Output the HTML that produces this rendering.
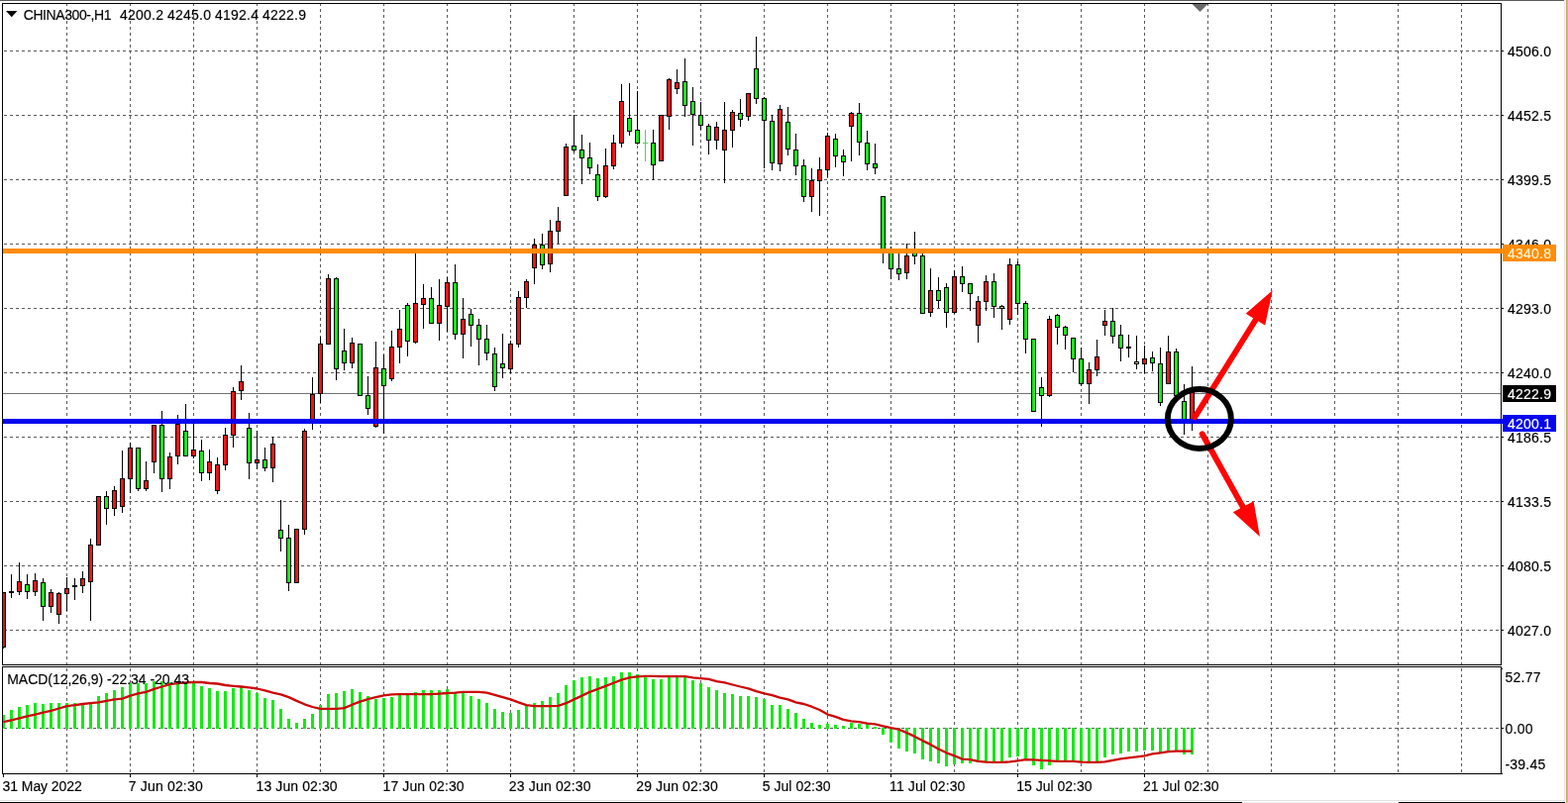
<!DOCTYPE html>
<html lang="en"><head><meta charset="utf-8"><title>CHINA300-,H1</title>
<style>html,body{margin:0;padding:0;background:#fff;overflow:hidden}body{width:1583px;height:811px;position:relative}svg{display:block}</style></head>
<body>
<svg width="1583" height="811" viewBox="0 0 1583 811" style="position:absolute;left:0;top:0">
<defs>
<pattern id="hd" x="4" y="0" width="6" height="1" patternUnits="userSpaceOnUse"><rect x="0" y="0" width="3" height="1" fill="#5a5a5a"/></pattern>
<pattern id="vd" x="0" y="3" width="1" height="6" patternUnits="userSpaceOnUse"><rect x="0" y="0" width="1" height="3" fill="#5a5a5a"/></pattern>
<pattern id="vd2" x="0" y="2" width="1" height="6" patternUnits="userSpaceOnUse"><rect x="0" y="0" width="1" height="3" fill="#5a5a5a"/></pattern>
</defs>
<g shape-rendering="crispEdges">
<rect x="0" y="0" width="1583" height="811" fill="#ffffff"/>
<rect x="0" y="0" width="1579" height="1" fill="#5c5c5c"/>
<rect x="1579" y="0" width="1" height="811" fill="#e8e6de"/>
<rect x="1580" y="0" width="1" height="811" fill="#fff8c4"/>
<rect x="1581" y="0" width="1" height="811" fill="#c8a872"/>
<rect x="1582" y="0" width="1" height="811" fill="#c6b8aa"/>
<rect x="0" y="808" width="1579" height="1" fill="#e2e2e2"/>
<rect x="0" y="810" width="1254" height="1" fill="#000"/>
<rect x="1254" y="810" width="158" height="1" fill="#f0f0f0"/>
<rect x="1412" y="810" width="168" height="1" fill="#000"/>
<rect x="67" y="4" width="1" height="667" fill="url(#vd)"/>
<rect x="67" y="674" width="1" height="107" fill="url(#vd)"/>
<rect x="131" y="4" width="1" height="667" fill="url(#vd)"/>
<rect x="131" y="674" width="1" height="107" fill="url(#vd)"/>
<rect x="195" y="4" width="1" height="667" fill="url(#vd)"/>
<rect x="195" y="674" width="1" height="107" fill="url(#vd)"/>
<rect x="259" y="4" width="1" height="667" fill="url(#vd)"/>
<rect x="259" y="674" width="1" height="107" fill="url(#vd)"/>
<rect x="323" y="4" width="1" height="667" fill="url(#vd)"/>
<rect x="323" y="674" width="1" height="107" fill="url(#vd)"/>
<rect x="387" y="4" width="1" height="667" fill="url(#vd)"/>
<rect x="387" y="674" width="1" height="107" fill="url(#vd)"/>
<rect x="451" y="4" width="1" height="667" fill="url(#vd)"/>
<rect x="451" y="674" width="1" height="107" fill="url(#vd)"/>
<rect x="515" y="4" width="1" height="667" fill="url(#vd)"/>
<rect x="515" y="674" width="1" height="107" fill="url(#vd)"/>
<rect x="579" y="4" width="1" height="667" fill="url(#vd)"/>
<rect x="579" y="674" width="1" height="107" fill="url(#vd)"/>
<rect x="643" y="4" width="1" height="667" fill="url(#vd)"/>
<rect x="643" y="674" width="1" height="107" fill="url(#vd)"/>
<rect x="707" y="4" width="1" height="667" fill="url(#vd)"/>
<rect x="707" y="674" width="1" height="107" fill="url(#vd)"/>
<rect x="771" y="4" width="1" height="667" fill="url(#vd)"/>
<rect x="771" y="674" width="1" height="107" fill="url(#vd)"/>
<rect x="835" y="4" width="1" height="667" fill="url(#vd)"/>
<rect x="835" y="674" width="1" height="107" fill="url(#vd)"/>
<rect x="899" y="4" width="1" height="667" fill="url(#vd)"/>
<rect x="899" y="674" width="1" height="107" fill="url(#vd)"/>
<rect x="963" y="4" width="1" height="667" fill="url(#vd)"/>
<rect x="963" y="674" width="1" height="107" fill="url(#vd)"/>
<rect x="1027" y="4" width="1" height="667" fill="url(#vd)"/>
<rect x="1027" y="674" width="1" height="107" fill="url(#vd)"/>
<rect x="1091" y="4" width="1" height="667" fill="url(#vd)"/>
<rect x="1091" y="674" width="1" height="107" fill="url(#vd)"/>
<rect x="1155" y="4" width="1" height="667" fill="url(#vd)"/>
<rect x="1155" y="674" width="1" height="107" fill="url(#vd)"/>
<rect x="1219" y="4" width="1" height="667" fill="url(#vd)"/>
<rect x="1219" y="674" width="1" height="107" fill="url(#vd)"/>
<rect x="1283" y="4" width="1" height="667" fill="url(#vd)"/>
<rect x="1283" y="674" width="1" height="107" fill="url(#vd)"/>
<rect x="1347" y="4" width="1" height="667" fill="url(#vd)"/>
<rect x="1347" y="674" width="1" height="107" fill="url(#vd)"/>
<rect x="1411" y="4" width="1" height="667" fill="url(#vd)"/>
<rect x="1411" y="674" width="1" height="107" fill="url(#vd)"/>
<rect x="1475" y="4" width="1" height="667" fill="url(#vd)"/>
<rect x="1475" y="674" width="1" height="107" fill="url(#vd)"/>
<rect x="3" y="51" width="1512" height="1" fill="url(#hd)"/>
<rect x="3" y="116" width="1512" height="1" fill="url(#hd)"/>
<rect x="3" y="181" width="1512" height="1" fill="url(#hd)"/>
<rect x="3" y="246" width="1512" height="1" fill="url(#hd)"/>
<rect x="3" y="311" width="1512" height="1" fill="url(#hd)"/>
<rect x="3" y="376" width="1512" height="1" fill="url(#hd)"/>
<rect x="3" y="441" width="1512" height="1" fill="url(#hd)"/>
<rect x="3" y="506" width="1512" height="1" fill="url(#hd)"/>
<rect x="3" y="571" width="1512" height="1" fill="url(#hd)"/>
<rect x="3" y="636" width="1512" height="1" fill="url(#hd)"/>
<rect x="3" y="735" width="1512" height="1" fill="url(#hd)"/>
<rect x="3" y="397" width="1512" height="1" fill="#707070"/>
<rect x="3" y="598" width="1" height="57" fill="#000"/>
<rect x="3" y="598" width="3" height="56" fill="#000"/>
<rect x="3" y="599" width="2" height="54" fill="#c41c24"/>
<rect x="11" y="580" width="1" height="24" fill="#000"/>
<rect x="9" y="597" width="5" height="2" fill="#000"/>
<rect x="19" y="568" width="1" height="33" fill="#000"/>
<rect x="17" y="587" width="5" height="11" fill="#000"/>
<rect x="18" y="588" width="3" height="9" fill="#f01414"/>
<rect x="27" y="580" width="1" height="25" fill="#000"/>
<rect x="25" y="590" width="5" height="8" fill="#000"/>
<rect x="26" y="591" width="3" height="6" fill="#14f014"/>
<rect x="35" y="579" width="1" height="23" fill="#000"/>
<rect x="33" y="586" width="5" height="12" fill="#000"/>
<rect x="34" y="587" width="3" height="10" fill="#f01414"/>
<rect x="43" y="584" width="1" height="43" fill="#000"/>
<rect x="41" y="588" width="5" height="25" fill="#000"/>
<rect x="42" y="589" width="3" height="23" fill="#14f014"/>
<rect x="51" y="595" width="1" height="24" fill="#000"/>
<rect x="49" y="598" width="5" height="15" fill="#000"/>
<rect x="50" y="599" width="3" height="13" fill="#f01414"/>
<rect x="59" y="598" width="1" height="32" fill="#000"/>
<rect x="57" y="599" width="5" height="22" fill="#000"/>
<rect x="58" y="600" width="3" height="20" fill="#f01414"/>
<rect x="67" y="583" width="1" height="34" fill="#000"/>
<rect x="65" y="594" width="5" height="6" fill="#000"/>
<rect x="66" y="595" width="3" height="4" fill="#f01414"/>
<rect x="75" y="584" width="1" height="22" fill="#000"/>
<rect x="73" y="591" width="5" height="2" fill="#000"/>
<rect x="83" y="577" width="1" height="22" fill="#000"/>
<rect x="81" y="584" width="5" height="8" fill="#000"/>
<rect x="82" y="585" width="3" height="6" fill="#f01414"/>
<rect x="91" y="544" width="1" height="83" fill="#000"/>
<rect x="89" y="550" width="5" height="38" fill="#000"/>
<rect x="90" y="551" width="3" height="36" fill="#f01414"/>
<rect x="99" y="501" width="1" height="50" fill="#000"/>
<rect x="97" y="501" width="5" height="50" fill="#000"/>
<rect x="98" y="502" width="3" height="48" fill="#f01414"/>
<rect x="107" y="496" width="1" height="34" fill="#000"/>
<rect x="105" y="501" width="5" height="13" fill="#000"/>
<rect x="106" y="502" width="3" height="11" fill="#14f014"/>
<rect x="115" y="491" width="1" height="30" fill="#000"/>
<rect x="113" y="495" width="5" height="19" fill="#000"/>
<rect x="114" y="496" width="3" height="17" fill="#f01414"/>
<rect x="123" y="455" width="1" height="63" fill="#000"/>
<rect x="121" y="483" width="5" height="29" fill="#000"/>
<rect x="122" y="484" width="3" height="27" fill="#f01414"/>
<rect x="131" y="447" width="1" height="51" fill="#000"/>
<rect x="129" y="452" width="5" height="32" fill="#000"/>
<rect x="130" y="453" width="3" height="30" fill="#f01414"/>
<rect x="139" y="452" width="1" height="44" fill="#000"/>
<rect x="137" y="452" width="5" height="42" fill="#000"/>
<rect x="138" y="453" width="3" height="40" fill="#14f014"/>
<rect x="147" y="466" width="1" height="30" fill="#000"/>
<rect x="145" y="485" width="5" height="9" fill="#000"/>
<rect x="146" y="486" width="3" height="7" fill="#f01414"/>
<rect x="155" y="429" width="1" height="49" fill="#000"/>
<rect x="153" y="429" width="5" height="38" fill="#000"/>
<rect x="154" y="430" width="3" height="36" fill="#f01414"/>
<rect x="163" y="415" width="1" height="82" fill="#000"/>
<rect x="161" y="429" width="5" height="55" fill="#000"/>
<rect x="162" y="430" width="3" height="53" fill="#14f014"/>
<rect x="171" y="457" width="1" height="37" fill="#000"/>
<rect x="169" y="461" width="5" height="23" fill="#000"/>
<rect x="170" y="462" width="3" height="21" fill="#f01414"/>
<rect x="179" y="419" width="1" height="50" fill="#000"/>
<rect x="177" y="428" width="5" height="33" fill="#000"/>
<rect x="178" y="429" width="3" height="31" fill="#f01414"/>
<rect x="187" y="408" width="1" height="53" fill="#000"/>
<rect x="185" y="435" width="5" height="26" fill="#000"/>
<rect x="186" y="436" width="3" height="24" fill="#14f014"/>
<rect x="195" y="423" width="1" height="40" fill="#000"/>
<rect x="193" y="454" width="5" height="7" fill="#000"/>
<rect x="194" y="455" width="3" height="5" fill="#f01414"/>
<rect x="203" y="444" width="1" height="42" fill="#000"/>
<rect x="201" y="455" width="5" height="23" fill="#000"/>
<rect x="202" y="456" width="3" height="21" fill="#14f014"/>
<rect x="211" y="454" width="1" height="31" fill="#000"/>
<rect x="209" y="466" width="5" height="12" fill="#000"/>
<rect x="210" y="467" width="3" height="10" fill="#f01414"/>
<rect x="219" y="462" width="1" height="37" fill="#000"/>
<rect x="217" y="469" width="5" height="27" fill="#000"/>
<rect x="218" y="470" width="3" height="25" fill="#f01414"/>
<rect x="227" y="432" width="1" height="43" fill="#000"/>
<rect x="225" y="439" width="5" height="31" fill="#000"/>
<rect x="226" y="440" width="3" height="29" fill="#f01414"/>
<rect x="235" y="391" width="1" height="61" fill="#000"/>
<rect x="233" y="395" width="5" height="45" fill="#000"/>
<rect x="234" y="396" width="3" height="43" fill="#f01414"/>
<rect x="243" y="369" width="1" height="35" fill="#000"/>
<rect x="241" y="385" width="5" height="10" fill="#000"/>
<rect x="242" y="386" width="3" height="8" fill="#f01414"/>
<rect x="251" y="417" width="1" height="67" fill="#000"/>
<rect x="249" y="432" width="5" height="36" fill="#000"/>
<rect x="250" y="433" width="3" height="34" fill="#14f014"/>
<rect x="259" y="435" width="1" height="39" fill="#000"/>
<rect x="257" y="464" width="5" height="4" fill="#000"/>
<rect x="258" y="465" width="3" height="2" fill="#f01414"/>
<rect x="267" y="452" width="1" height="24" fill="#000"/>
<rect x="265" y="464" width="5" height="9" fill="#000"/>
<rect x="266" y="465" width="3" height="7" fill="#14f014"/>
<rect x="275" y="441" width="1" height="46" fill="#000"/>
<rect x="273" y="448" width="5" height="25" fill="#000"/>
<rect x="274" y="449" width="3" height="23" fill="#f01414"/>
<rect x="283" y="505" width="1" height="52" fill="#000"/>
<rect x="281" y="535" width="5" height="9" fill="#000"/>
<rect x="282" y="536" width="3" height="7" fill="#14f014"/>
<rect x="291" y="530" width="1" height="67" fill="#000"/>
<rect x="289" y="543" width="5" height="46" fill="#000"/>
<rect x="290" y="544" width="3" height="44" fill="#14f014"/>
<rect x="299" y="534" width="1" height="55" fill="#000"/>
<rect x="297" y="534" width="5" height="55" fill="#000"/>
<rect x="298" y="535" width="3" height="53" fill="#f01414"/>
<rect x="307" y="433" width="1" height="107" fill="#000"/>
<rect x="305" y="435" width="5" height="100" fill="#000"/>
<rect x="306" y="436" width="3" height="98" fill="#f01414"/>
<rect x="315" y="381" width="1" height="53" fill="#000"/>
<rect x="313" y="398" width="5" height="27" fill="#000"/>
<rect x="314" y="399" width="3" height="25" fill="#f01414"/>
<rect x="323" y="340" width="1" height="67" fill="#000"/>
<rect x="321" y="347" width="5" height="51" fill="#000"/>
<rect x="322" y="348" width="3" height="49" fill="#f01414"/>
<rect x="331" y="277" width="1" height="71" fill="#000"/>
<rect x="329" y="281" width="5" height="67" fill="#000"/>
<rect x="330" y="282" width="3" height="65" fill="#f01414"/>
<rect x="339" y="280" width="1" height="104" fill="#000"/>
<rect x="337" y="281" width="5" height="92" fill="#000"/>
<rect x="338" y="282" width="3" height="90" fill="#14f014"/>
<rect x="347" y="332" width="1" height="42" fill="#000"/>
<rect x="345" y="354" width="5" height="13" fill="#000"/>
<rect x="346" y="355" width="3" height="11" fill="#14f014"/>
<rect x="355" y="341" width="1" height="31" fill="#000"/>
<rect x="353" y="346" width="5" height="21" fill="#000"/>
<rect x="354" y="347" width="3" height="19" fill="#f01414"/>
<rect x="363" y="347" width="1" height="53" fill="#000"/>
<rect x="361" y="347" width="5" height="53" fill="#000"/>
<rect x="362" y="348" width="3" height="51" fill="#14f014"/>
<rect x="371" y="380" width="1" height="39" fill="#000"/>
<rect x="369" y="399" width="5" height="14" fill="#000"/>
<rect x="370" y="400" width="3" height="12" fill="#14f014"/>
<rect x="379" y="345" width="1" height="87" fill="#000"/>
<rect x="377" y="371" width="5" height="60" fill="#000"/>
<rect x="378" y="372" width="3" height="58" fill="#f01414"/>
<rect x="387" y="358" width="1" height="80" fill="#000"/>
<rect x="385" y="372" width="5" height="18" fill="#000"/>
<rect x="386" y="373" width="3" height="16" fill="#14f014"/>
<rect x="395" y="334" width="1" height="51" fill="#000"/>
<rect x="393" y="350" width="5" height="33" fill="#000"/>
<rect x="394" y="351" width="3" height="31" fill="#f01414"/>
<rect x="403" y="313" width="1" height="54" fill="#000"/>
<rect x="401" y="332" width="5" height="19" fill="#000"/>
<rect x="402" y="333" width="3" height="17" fill="#f01414"/>
<rect x="411" y="306" width="1" height="54" fill="#000"/>
<rect x="409" y="308" width="5" height="37" fill="#000"/>
<rect x="410" y="309" width="3" height="35" fill="#14f014"/>
<rect x="419" y="254" width="1" height="93" fill="#000"/>
<rect x="417" y="306" width="5" height="40" fill="#000"/>
<rect x="418" y="307" width="3" height="38" fill="#f01414"/>
<rect x="427" y="287" width="1" height="45" fill="#000"/>
<rect x="425" y="301" width="5" height="7" fill="#000"/>
<rect x="426" y="302" width="3" height="5" fill="#f01414"/>
<rect x="435" y="290" width="1" height="37" fill="#000"/>
<rect x="433" y="301" width="5" height="26" fill="#000"/>
<rect x="434" y="302" width="3" height="24" fill="#14f014"/>
<rect x="443" y="282" width="1" height="62" fill="#000"/>
<rect x="441" y="308" width="5" height="19" fill="#000"/>
<rect x="442" y="309" width="3" height="17" fill="#f01414"/>
<rect x="451" y="280" width="1" height="55" fill="#000"/>
<rect x="449" y="285" width="5" height="25" fill="#000"/>
<rect x="450" y="286" width="3" height="23" fill="#f01414"/>
<rect x="459" y="267" width="1" height="76" fill="#000"/>
<rect x="457" y="285" width="5" height="53" fill="#000"/>
<rect x="458" y="286" width="3" height="51" fill="#14f014"/>
<rect x="467" y="301" width="1" height="61" fill="#000"/>
<rect x="465" y="322" width="5" height="16" fill="#000"/>
<rect x="466" y="323" width="3" height="14" fill="#f01414"/>
<rect x="475" y="312" width="1" height="38" fill="#000"/>
<rect x="473" y="317" width="5" height="12" fill="#000"/>
<rect x="474" y="318" width="3" height="10" fill="#14f014"/>
<rect x="483" y="322" width="1" height="47" fill="#000"/>
<rect x="481" y="328" width="5" height="15" fill="#000"/>
<rect x="482" y="329" width="3" height="13" fill="#14f014"/>
<rect x="491" y="328" width="1" height="36" fill="#000"/>
<rect x="489" y="342" width="5" height="15" fill="#000"/>
<rect x="490" y="343" width="3" height="13" fill="#14f014"/>
<rect x="499" y="351" width="1" height="44" fill="#000"/>
<rect x="497" y="357" width="5" height="34" fill="#000"/>
<rect x="498" y="358" width="3" height="32" fill="#14f014"/>
<rect x="507" y="337" width="1" height="45" fill="#000"/>
<rect x="505" y="367" width="5" height="5" fill="#000"/>
<rect x="506" y="368" width="3" height="3" fill="#14f014"/>
<rect x="515" y="344" width="1" height="33" fill="#000"/>
<rect x="513" y="347" width="5" height="26" fill="#000"/>
<rect x="514" y="348" width="3" height="24" fill="#f01414"/>
<rect x="523" y="294" width="1" height="57" fill="#000"/>
<rect x="521" y="300" width="5" height="48" fill="#000"/>
<rect x="522" y="301" width="3" height="46" fill="#f01414"/>
<rect x="531" y="282" width="1" height="29" fill="#000"/>
<rect x="529" y="284" width="5" height="17" fill="#000"/>
<rect x="530" y="285" width="3" height="15" fill="#f01414"/>
<rect x="539" y="241" width="1" height="46" fill="#000"/>
<rect x="537" y="247" width="5" height="24" fill="#000"/>
<rect x="538" y="248" width="3" height="22" fill="#f01414"/>
<rect x="547" y="236" width="1" height="36" fill="#000"/>
<rect x="545" y="247" width="5" height="21" fill="#000"/>
<rect x="546" y="248" width="3" height="19" fill="#14f014"/>
<rect x="555" y="222" width="1" height="53" fill="#000"/>
<rect x="553" y="233" width="5" height="34" fill="#000"/>
<rect x="554" y="234" width="3" height="32" fill="#f01414"/>
<rect x="563" y="209" width="1" height="37" fill="#000"/>
<rect x="561" y="223" width="5" height="11" fill="#000"/>
<rect x="562" y="224" width="3" height="9" fill="#f01414"/>
<rect x="571" y="145" width="1" height="53" fill="#000"/>
<rect x="569" y="148" width="5" height="50" fill="#000"/>
<rect x="570" y="149" width="3" height="48" fill="#f01414"/>
<rect x="579" y="116" width="1" height="38" fill="#000"/>
<rect x="577" y="147" width="5" height="5" fill="#000"/>
<rect x="578" y="148" width="3" height="3" fill="#14f014"/>
<rect x="587" y="136" width="1" height="50" fill="#000"/>
<rect x="585" y="151" width="5" height="9" fill="#000"/>
<rect x="586" y="152" width="3" height="7" fill="#14f014"/>
<rect x="595" y="144" width="1" height="32" fill="#000"/>
<rect x="593" y="159" width="5" height="11" fill="#000"/>
<rect x="594" y="160" width="3" height="9" fill="#14f014"/>
<rect x="603" y="166" width="1" height="37" fill="#000"/>
<rect x="601" y="176" width="5" height="23" fill="#000"/>
<rect x="602" y="177" width="3" height="21" fill="#14f014"/>
<rect x="611" y="150" width="1" height="50" fill="#000"/>
<rect x="609" y="167" width="5" height="32" fill="#000"/>
<rect x="610" y="168" width="3" height="30" fill="#f01414"/>
<rect x="619" y="136" width="1" height="35" fill="#000"/>
<rect x="617" y="144" width="5" height="24" fill="#000"/>
<rect x="618" y="145" width="3" height="22" fill="#f01414"/>
<rect x="627" y="85" width="1" height="64" fill="#000"/>
<rect x="625" y="102" width="5" height="43" fill="#000"/>
<rect x="626" y="103" width="3" height="41" fill="#f01414"/>
<rect x="635" y="84" width="1" height="53" fill="#000"/>
<rect x="633" y="119" width="5" height="14" fill="#000"/>
<rect x="634" y="120" width="3" height="12" fill="#14f014"/>
<rect x="643" y="92" width="1" height="54" fill="#000"/>
<rect x="641" y="131" width="5" height="14" fill="#000"/>
<rect x="642" y="132" width="3" height="12" fill="#14f014"/>
<rect x="651" y="131" width="1" height="32" fill="#4cd24c"/>
<rect x="649" y="144" width="5" height="1" fill="#4cd24c"/>
<rect x="659" y="131" width="1" height="51" fill="#000"/>
<rect x="657" y="144" width="5" height="23" fill="#000"/>
<rect x="658" y="145" width="3" height="21" fill="#14f014"/>
<rect x="667" y="116" width="1" height="47" fill="#000"/>
<rect x="665" y="116" width="5" height="47" fill="#000"/>
<rect x="666" y="117" width="3" height="45" fill="#f01414"/>
<rect x="675" y="79" width="1" height="52" fill="#000"/>
<rect x="673" y="80" width="5" height="38" fill="#000"/>
<rect x="674" y="81" width="3" height="36" fill="#f01414"/>
<rect x="683" y="70" width="1" height="25" fill="#000"/>
<rect x="681" y="83" width="5" height="7" fill="#000"/>
<rect x="682" y="84" width="3" height="5" fill="#f01414"/>
<rect x="691" y="59" width="1" height="59" fill="#000"/>
<rect x="689" y="82" width="5" height="25" fill="#000"/>
<rect x="690" y="83" width="3" height="23" fill="#14f014"/>
<rect x="699" y="88" width="1" height="59" fill="#000"/>
<rect x="697" y="102" width="5" height="14" fill="#000"/>
<rect x="698" y="103" width="3" height="12" fill="#14f014"/>
<rect x="707" y="103" width="1" height="28" fill="#000"/>
<rect x="705" y="116" width="5" height="11" fill="#000"/>
<rect x="706" y="117" width="3" height="9" fill="#14f014"/>
<rect x="715" y="125" width="1" height="31" fill="#000"/>
<rect x="713" y="127" width="5" height="15" fill="#000"/>
<rect x="714" y="128" width="3" height="13" fill="#14f014"/>
<rect x="723" y="123" width="1" height="28" fill="#000"/>
<rect x="721" y="128" width="5" height="14" fill="#000"/>
<rect x="722" y="129" width="3" height="12" fill="#f01414"/>
<rect x="731" y="103" width="1" height="82" fill="#000"/>
<rect x="729" y="131" width="5" height="21" fill="#000"/>
<rect x="730" y="132" width="3" height="19" fill="#f01414"/>
<rect x="739" y="111" width="1" height="38" fill="#000"/>
<rect x="737" y="113" width="5" height="19" fill="#000"/>
<rect x="738" y="114" width="3" height="17" fill="#f01414"/>
<rect x="747" y="100" width="1" height="28" fill="#000"/>
<rect x="745" y="114" width="5" height="7" fill="#000"/>
<rect x="746" y="115" width="3" height="5" fill="#14f014"/>
<rect x="755" y="94" width="1" height="28" fill="#000"/>
<rect x="753" y="94" width="5" height="24" fill="#000"/>
<rect x="754" y="95" width="3" height="22" fill="#f01414"/>
<rect x="763" y="37" width="1" height="68" fill="#000"/>
<rect x="761" y="69" width="5" height="31" fill="#000"/>
<rect x="762" y="70" width="3" height="29" fill="#14f014"/>
<rect x="771" y="98" width="1" height="72" fill="#000"/>
<rect x="769" y="99" width="5" height="23" fill="#000"/>
<rect x="770" y="100" width="3" height="21" fill="#14f014"/>
<rect x="779" y="116" width="1" height="56" fill="#000"/>
<rect x="777" y="122" width="5" height="43" fill="#000"/>
<rect x="778" y="123" width="3" height="41" fill="#14f014"/>
<rect x="787" y="106" width="1" height="67" fill="#000"/>
<rect x="785" y="110" width="5" height="56" fill="#000"/>
<rect x="786" y="111" width="3" height="54" fill="#f01414"/>
<rect x="795" y="108" width="1" height="49" fill="#000"/>
<rect x="793" y="123" width="5" height="28" fill="#000"/>
<rect x="794" y="124" width="3" height="26" fill="#14f014"/>
<rect x="803" y="135" width="1" height="42" fill="#000"/>
<rect x="801" y="151" width="5" height="17" fill="#000"/>
<rect x="802" y="152" width="3" height="15" fill="#14f014"/>
<rect x="811" y="161" width="1" height="43" fill="#000"/>
<rect x="809" y="167" width="5" height="32" fill="#000"/>
<rect x="810" y="168" width="3" height="30" fill="#14f014"/>
<rect x="819" y="170" width="1" height="44" fill="#000"/>
<rect x="817" y="182" width="5" height="17" fill="#000"/>
<rect x="818" y="183" width="3" height="15" fill="#f01414"/>
<rect x="827" y="159" width="1" height="59" fill="#000"/>
<rect x="825" y="171" width="5" height="12" fill="#000"/>
<rect x="826" y="172" width="3" height="10" fill="#f01414"/>
<rect x="835" y="134" width="1" height="45" fill="#000"/>
<rect x="833" y="137" width="5" height="35" fill="#000"/>
<rect x="834" y="138" width="3" height="33" fill="#f01414"/>
<rect x="843" y="135" width="1" height="34" fill="#000"/>
<rect x="841" y="140" width="5" height="18" fill="#000"/>
<rect x="842" y="141" width="3" height="16" fill="#14f014"/>
<rect x="851" y="151" width="1" height="27" fill="#000"/>
<rect x="849" y="157" width="5" height="7" fill="#000"/>
<rect x="850" y="158" width="3" height="5" fill="#14f014"/>
<rect x="859" y="113" width="1" height="50" fill="#000"/>
<rect x="857" y="114" width="5" height="14" fill="#000"/>
<rect x="858" y="115" width="3" height="12" fill="#f01414"/>
<rect x="867" y="104" width="1" height="53" fill="#000"/>
<rect x="865" y="114" width="5" height="30" fill="#000"/>
<rect x="866" y="115" width="3" height="28" fill="#14f014"/>
<rect x="875" y="132" width="1" height="40" fill="#000"/>
<rect x="873" y="144" width="5" height="22" fill="#000"/>
<rect x="874" y="145" width="3" height="20" fill="#14f014"/>
<rect x="883" y="145" width="1" height="31" fill="#000"/>
<rect x="881" y="165" width="5" height="5" fill="#000"/>
<rect x="882" y="166" width="3" height="3" fill="#14f014"/>
<rect x="891" y="198" width="1" height="68" fill="#000"/>
<rect x="889" y="198" width="5" height="54" fill="#000"/>
<rect x="890" y="199" width="3" height="52" fill="#14f014"/>
<rect x="899" y="249" width="1" height="33" fill="#000"/>
<rect x="897" y="252" width="5" height="20" fill="#000"/>
<rect x="898" y="253" width="3" height="18" fill="#14f014"/>
<rect x="907" y="256" width="1" height="27" fill="#000"/>
<rect x="905" y="271" width="5" height="6" fill="#000"/>
<rect x="906" y="272" width="3" height="4" fill="#14f014"/>
<rect x="915" y="246" width="1" height="36" fill="#000"/>
<rect x="913" y="258" width="5" height="18" fill="#000"/>
<rect x="914" y="259" width="3" height="16" fill="#f01414"/>
<rect x="923" y="234" width="1" height="33" fill="#000"/>
<rect x="921" y="252" width="5" height="7" fill="#000"/>
<rect x="922" y="253" width="3" height="5" fill="#14f014"/>
<rect x="931" y="256" width="1" height="61" fill="#000"/>
<rect x="929" y="258" width="5" height="59" fill="#000"/>
<rect x="930" y="259" width="3" height="57" fill="#14f014"/>
<rect x="939" y="271" width="1" height="49" fill="#000"/>
<rect x="937" y="293" width="5" height="23" fill="#000"/>
<rect x="938" y="294" width="3" height="21" fill="#f01414"/>
<rect x="947" y="280" width="1" height="31" fill="#000"/>
<rect x="945" y="293" width="5" height="11" fill="#000"/>
<rect x="946" y="294" width="3" height="9" fill="#14f014"/>
<rect x="955" y="286" width="1" height="45" fill="#000"/>
<rect x="953" y="290" width="5" height="26" fill="#000"/>
<rect x="954" y="291" width="3" height="24" fill="#14f014"/>
<rect x="963" y="273" width="1" height="44" fill="#000"/>
<rect x="961" y="279" width="5" height="37" fill="#000"/>
<rect x="962" y="280" width="3" height="35" fill="#f01414"/>
<rect x="971" y="269" width="1" height="26" fill="#000"/>
<rect x="969" y="279" width="5" height="8" fill="#000"/>
<rect x="970" y="280" width="3" height="6" fill="#14f014"/>
<rect x="979" y="286" width="1" height="28" fill="#000"/>
<rect x="977" y="286" width="5" height="11" fill="#000"/>
<rect x="978" y="287" width="3" height="9" fill="#14f014"/>
<rect x="987" y="299" width="1" height="47" fill="#000"/>
<rect x="985" y="304" width="5" height="25" fill="#000"/>
<rect x="986" y="305" width="3" height="23" fill="#f01414"/>
<rect x="995" y="278" width="1" height="36" fill="#000"/>
<rect x="993" y="284" width="5" height="21" fill="#000"/>
<rect x="994" y="285" width="3" height="19" fill="#f01414"/>
<rect x="1003" y="276" width="1" height="45" fill="#000"/>
<rect x="1001" y="284" width="5" height="26" fill="#000"/>
<rect x="1002" y="285" width="3" height="24" fill="#14f014"/>
<rect x="1011" y="308" width="1" height="25" fill="#000"/>
<rect x="1009" y="309" width="5" height="3" fill="#000"/>
<rect x="1010" y="310" width="3" height="1" fill="#b0d8a0"/>
<rect x="1019" y="261" width="1" height="67" fill="#000"/>
<rect x="1017" y="267" width="5" height="56" fill="#000"/>
<rect x="1018" y="268" width="3" height="54" fill="#f01414"/>
<rect x="1027" y="264" width="1" height="54" fill="#000"/>
<rect x="1025" y="267" width="5" height="40" fill="#000"/>
<rect x="1026" y="268" width="3" height="38" fill="#14f014"/>
<rect x="1035" y="304" width="1" height="53" fill="#000"/>
<rect x="1033" y="306" width="5" height="37" fill="#000"/>
<rect x="1034" y="307" width="3" height="35" fill="#14f014"/>
<rect x="1043" y="342" width="1" height="74" fill="#000"/>
<rect x="1041" y="342" width="5" height="74" fill="#000"/>
<rect x="1042" y="343" width="3" height="72" fill="#14f014"/>
<rect x="1051" y="381" width="1" height="50" fill="#000"/>
<rect x="1049" y="391" width="5" height="9" fill="#000"/>
<rect x="1050" y="392" width="3" height="7" fill="#14f014"/>
<rect x="1059" y="319" width="1" height="82" fill="#000"/>
<rect x="1057" y="322" width="5" height="78" fill="#000"/>
<rect x="1058" y="323" width="3" height="76" fill="#f01414"/>
<rect x="1067" y="317" width="1" height="31" fill="#000"/>
<rect x="1065" y="318" width="5" height="13" fill="#000"/>
<rect x="1066" y="319" width="3" height="11" fill="#14f014"/>
<rect x="1075" y="329" width="1" height="24" fill="#000"/>
<rect x="1073" y="330" width="5" height="9" fill="#000"/>
<rect x="1074" y="331" width="3" height="7" fill="#14f014"/>
<rect x="1083" y="341" width="1" height="35" fill="#000"/>
<rect x="1081" y="341" width="5" height="22" fill="#000"/>
<rect x="1082" y="342" width="3" height="20" fill="#14f014"/>
<rect x="1091" y="351" width="1" height="39" fill="#000"/>
<rect x="1089" y="362" width="5" height="26" fill="#000"/>
<rect x="1090" y="363" width="3" height="24" fill="#14f014"/>
<rect x="1099" y="366" width="1" height="42" fill="#000"/>
<rect x="1097" y="373" width="5" height="15" fill="#000"/>
<rect x="1098" y="374" width="3" height="13" fill="#f01414"/>
<rect x="1107" y="343" width="1" height="37" fill="#000"/>
<rect x="1105" y="360" width="5" height="14" fill="#000"/>
<rect x="1106" y="361" width="3" height="12" fill="#f01414"/>
<rect x="1115" y="313" width="1" height="26" fill="#000"/>
<rect x="1113" y="324" width="5" height="5" fill="#000"/>
<rect x="1114" y="325" width="3" height="3" fill="#f01414"/>
<rect x="1123" y="311" width="1" height="36" fill="#000"/>
<rect x="1121" y="324" width="5" height="16" fill="#000"/>
<rect x="1122" y="325" width="3" height="14" fill="#14f014"/>
<rect x="1131" y="328" width="1" height="37" fill="#000"/>
<rect x="1129" y="338" width="5" height="14" fill="#000"/>
<rect x="1130" y="339" width="3" height="12" fill="#14f014"/>
<rect x="1139" y="338" width="1" height="23" fill="#000"/>
<rect x="1137" y="350" width="5" height="2" fill="#000"/>
<rect x="1147" y="339" width="1" height="34" fill="#000"/>
<rect x="1145" y="365" width="5" height="3" fill="#000"/>
<rect x="1146" y="366" width="3" height="1" fill="#b0d8a0"/>
<rect x="1155" y="349" width="1" height="28" fill="#000"/>
<rect x="1153" y="362" width="5" height="6" fill="#000"/>
<rect x="1154" y="363" width="3" height="4" fill="#f01414"/>
<rect x="1163" y="355" width="1" height="20" fill="#000"/>
<rect x="1161" y="361" width="5" height="6" fill="#000"/>
<rect x="1162" y="362" width="3" height="4" fill="#14f014"/>
<rect x="1171" y="351" width="1" height="59" fill="#000"/>
<rect x="1169" y="367" width="5" height="40" fill="#000"/>
<rect x="1170" y="368" width="3" height="38" fill="#14f014"/>
<rect x="1179" y="339" width="1" height="49" fill="#000"/>
<rect x="1177" y="355" width="5" height="33" fill="#000"/>
<rect x="1178" y="356" width="3" height="31" fill="#f01414"/>
<rect x="1187" y="352" width="1" height="48" fill="#000"/>
<rect x="1185" y="355" width="5" height="45" fill="#000"/>
<rect x="1186" y="356" width="3" height="43" fill="#14f014"/>
<rect x="1195" y="388" width="1" height="51" fill="#000"/>
<rect x="1193" y="405" width="5" height="19" fill="#000"/>
<rect x="1194" y="406" width="3" height="17" fill="#14f014"/>
<rect x="1203" y="370" width="1" height="65" fill="#000"/>
<rect x="1201" y="396" width="5" height="28" fill="#000"/>
<rect x="1202" y="397" width="3" height="26" fill="#f01414"/>
<rect x="2" y="722" width="3" height="14" fill="#14ea14"/>
<rect x="10" y="717" width="3" height="19" fill="#14ea14"/>
<rect x="18" y="714" width="3" height="22" fill="#14ea14"/>
<rect x="26" y="712" width="3" height="24" fill="#14ea14"/>
<rect x="34" y="710" width="3" height="26" fill="#14ea14"/>
<rect x="42" y="711" width="3" height="25" fill="#14ea14"/>
<rect x="50" y="710" width="3" height="26" fill="#14ea14"/>
<rect x="58" y="710" width="3" height="26" fill="#14ea14"/>
<rect x="66" y="710" width="3" height="26" fill="#14ea14"/>
<rect x="74" y="710" width="3" height="26" fill="#14ea14"/>
<rect x="82" y="711" width="3" height="25" fill="#14ea14"/>
<rect x="90" y="709" width="3" height="27" fill="#14ea14"/>
<rect x="98" y="703" width="3" height="33" fill="#14ea14"/>
<rect x="106" y="700" width="3" height="36" fill="#14ea14"/>
<rect x="114" y="697" width="3" height="39" fill="#14ea14"/>
<rect x="122" y="694" width="3" height="42" fill="#14ea14"/>
<rect x="130" y="690" width="3" height="46" fill="#14ea14"/>
<rect x="138" y="690" width="3" height="46" fill="#14ea14"/>
<rect x="146" y="690" width="3" height="46" fill="#14ea14"/>
<rect x="154" y="688" width="3" height="48" fill="#14ea14"/>
<rect x="162" y="688" width="3" height="48" fill="#14ea14"/>
<rect x="170" y="689" width="3" height="47" fill="#14ea14"/>
<rect x="178" y="688" width="3" height="48" fill="#14ea14"/>
<rect x="186" y="689" width="3" height="47" fill="#14ea14"/>
<rect x="194" y="690" width="3" height="46" fill="#14ea14"/>
<rect x="202" y="693" width="3" height="43" fill="#14ea14"/>
<rect x="210" y="695" width="3" height="41" fill="#14ea14"/>
<rect x="218" y="698" width="3" height="38" fill="#14ea14"/>
<rect x="226" y="698" width="3" height="38" fill="#14ea14"/>
<rect x="234" y="695" width="3" height="41" fill="#14ea14"/>
<rect x="242" y="694" width="3" height="42" fill="#14ea14"/>
<rect x="250" y="697" width="3" height="39" fill="#14ea14"/>
<rect x="258" y="700" width="3" height="36" fill="#14ea14"/>
<rect x="266" y="705" width="3" height="31" fill="#14ea14"/>
<rect x="274" y="707" width="3" height="29" fill="#14ea14"/>
<rect x="282" y="716" width="3" height="20" fill="#14ea14"/>
<rect x="290" y="726" width="3" height="10" fill="#14ea14"/>
<rect x="298" y="730" width="3" height="6" fill="#14ea14"/>
<rect x="306" y="726" width="3" height="10" fill="#14ea14"/>
<rect x="314" y="721" width="3" height="15" fill="#14ea14"/>
<rect x="322" y="712" width="3" height="24" fill="#14ea14"/>
<rect x="330" y="701" width="3" height="35" fill="#14ea14"/>
<rect x="338" y="700" width="3" height="36" fill="#14ea14"/>
<rect x="346" y="698" width="3" height="38" fill="#14ea14"/>
<rect x="354" y="696" width="3" height="40" fill="#14ea14"/>
<rect x="362" y="699" width="3" height="37" fill="#14ea14"/>
<rect x="370" y="703" width="3" height="33" fill="#14ea14"/>
<rect x="378" y="706" width="3" height="30" fill="#14ea14"/>
<rect x="386" y="705" width="3" height="31" fill="#14ea14"/>
<rect x="394" y="704" width="3" height="32" fill="#14ea14"/>
<rect x="402" y="701" width="3" height="35" fill="#14ea14"/>
<rect x="410" y="700" width="3" height="36" fill="#14ea14"/>
<rect x="418" y="699" width="3" height="37" fill="#14ea14"/>
<rect x="426" y="697" width="3" height="39" fill="#14ea14"/>
<rect x="434" y="697" width="3" height="39" fill="#14ea14"/>
<rect x="442" y="697" width="3" height="39" fill="#14ea14"/>
<rect x="450" y="696" width="3" height="40" fill="#14ea14"/>
<rect x="458" y="700" width="3" height="36" fill="#14ea14"/>
<rect x="466" y="700" width="3" height="36" fill="#14ea14"/>
<rect x="474" y="703" width="3" height="33" fill="#14ea14"/>
<rect x="482" y="706" width="3" height="30" fill="#14ea14"/>
<rect x="490" y="710" width="3" height="26" fill="#14ea14"/>
<rect x="498" y="716" width="3" height="20" fill="#14ea14"/>
<rect x="506" y="719" width="3" height="17" fill="#14ea14"/>
<rect x="514" y="720" width="3" height="16" fill="#14ea14"/>
<rect x="522" y="717" width="3" height="19" fill="#14ea14"/>
<rect x="530" y="713" width="3" height="23" fill="#14ea14"/>
<rect x="538" y="710" width="3" height="26" fill="#14ea14"/>
<rect x="546" y="708" width="3" height="28" fill="#14ea14"/>
<rect x="554" y="704" width="3" height="32" fill="#14ea14"/>
<rect x="562" y="700" width="3" height="36" fill="#14ea14"/>
<rect x="570" y="692" width="3" height="44" fill="#14ea14"/>
<rect x="578" y="687" width="3" height="49" fill="#14ea14"/>
<rect x="586" y="684" width="3" height="52" fill="#14ea14"/>
<rect x="594" y="683" width="3" height="53" fill="#14ea14"/>
<rect x="602" y="685" width="3" height="51" fill="#14ea14"/>
<rect x="610" y="684" width="3" height="52" fill="#14ea14"/>
<rect x="618" y="683" width="3" height="53" fill="#14ea14"/>
<rect x="626" y="679" width="3" height="57" fill="#14ea14"/>
<rect x="634" y="679" width="3" height="57" fill="#14ea14"/>
<rect x="642" y="681" width="3" height="55" fill="#14ea14"/>
<rect x="650" y="683" width="3" height="53" fill="#14ea14"/>
<rect x="658" y="686" width="3" height="50" fill="#14ea14"/>
<rect x="666" y="686" width="3" height="50" fill="#14ea14"/>
<rect x="674" y="684" width="3" height="52" fill="#14ea14"/>
<rect x="682" y="684" width="3" height="52" fill="#14ea14"/>
<rect x="690" y="684" width="3" height="52" fill="#14ea14"/>
<rect x="698" y="687" width="3" height="49" fill="#14ea14"/>
<rect x="706" y="690" width="3" height="46" fill="#14ea14"/>
<rect x="714" y="694" width="3" height="42" fill="#14ea14"/>
<rect x="722" y="697" width="3" height="39" fill="#14ea14"/>
<rect x="730" y="700" width="3" height="36" fill="#14ea14"/>
<rect x="738" y="701" width="3" height="35" fill="#14ea14"/>
<rect x="746" y="703" width="3" height="33" fill="#14ea14"/>
<rect x="754" y="703" width="3" height="33" fill="#14ea14"/>
<rect x="762" y="704" width="3" height="32" fill="#14ea14"/>
<rect x="770" y="706" width="3" height="30" fill="#14ea14"/>
<rect x="778" y="712" width="3" height="24" fill="#14ea14"/>
<rect x="786" y="712" width="3" height="24" fill="#14ea14"/>
<rect x="794" y="716" width="3" height="20" fill="#14ea14"/>
<rect x="802" y="720" width="3" height="16" fill="#14ea14"/>
<rect x="810" y="726" width="3" height="10" fill="#14ea14"/>
<rect x="818" y="730" width="3" height="6" fill="#14ea14"/>
<rect x="826" y="732" width="3" height="4" fill="#14ea14"/>
<rect x="834" y="731" width="3" height="5" fill="#14ea14"/>
<rect x="842" y="732" width="3" height="4" fill="#14ea14"/>
<rect x="850" y="733" width="3" height="3" fill="#14ea14"/>
<rect x="858" y="730" width="3" height="6" fill="#14ea14"/>
<rect x="866" y="731" width="3" height="5" fill="#14ea14"/>
<rect x="874" y="731" width="3" height="5" fill="#14ea14"/>
<rect x="882" y="734" width="3" height="2" fill="#14ea14"/>
<rect x="890" y="735" width="3" height="7" fill="#14ea14"/>
<rect x="898" y="735" width="3" height="15" fill="#14ea14"/>
<rect x="906" y="735" width="3" height="21" fill="#14ea14"/>
<rect x="914" y="735" width="3" height="24" fill="#14ea14"/>
<rect x="922" y="735" width="3" height="26" fill="#14ea14"/>
<rect x="930" y="735" width="3" height="32" fill="#14ea14"/>
<rect x="938" y="735" width="3" height="34" fill="#14ea14"/>
<rect x="946" y="735" width="3" height="36" fill="#14ea14"/>
<rect x="954" y="735" width="3" height="39" fill="#14ea14"/>
<rect x="962" y="735" width="3" height="37" fill="#14ea14"/>
<rect x="970" y="735" width="3" height="36" fill="#14ea14"/>
<rect x="978" y="735" width="3" height="36" fill="#14ea14"/>
<rect x="986" y="735" width="3" height="35" fill="#14ea14"/>
<rect x="994" y="735" width="3" height="35" fill="#14ea14"/>
<rect x="1002" y="735" width="3" height="34" fill="#14ea14"/>
<rect x="1010" y="735" width="3" height="34" fill="#14ea14"/>
<rect x="1018" y="735" width="3" height="30" fill="#14ea14"/>
<rect x="1026" y="735" width="3" height="29" fill="#14ea14"/>
<rect x="1034" y="735" width="3" height="31" fill="#14ea14"/>
<rect x="1042" y="735" width="3" height="38" fill="#14ea14"/>
<rect x="1050" y="735" width="3" height="42" fill="#14ea14"/>
<rect x="1058" y="735" width="3" height="38" fill="#14ea14"/>
<rect x="1066" y="735" width="3" height="35" fill="#14ea14"/>
<rect x="1074" y="735" width="3" height="34" fill="#14ea14"/>
<rect x="1082" y="735" width="3" height="34" fill="#14ea14"/>
<rect x="1090" y="735" width="3" height="34" fill="#14ea14"/>
<rect x="1098" y="735" width="3" height="34" fill="#14ea14"/>
<rect x="1106" y="735" width="3" height="34" fill="#14ea14"/>
<rect x="1114" y="735" width="3" height="30" fill="#14ea14"/>
<rect x="1122" y="735" width="3" height="27" fill="#14ea14"/>
<rect x="1130" y="735" width="3" height="26" fill="#14ea14"/>
<rect x="1138" y="735" width="3" height="24" fill="#14ea14"/>
<rect x="1146" y="735" width="3" height="24" fill="#14ea14"/>
<rect x="1154" y="735" width="3" height="23" fill="#14ea14"/>
<rect x="1162" y="735" width="3" height="23" fill="#14ea14"/>
<rect x="1170" y="735" width="3" height="25" fill="#14ea14"/>
<rect x="1178" y="735" width="3" height="24" fill="#14ea14"/>
<rect x="1186" y="735" width="3" height="23" fill="#14ea14"/>
<rect x="1194" y="735" width="3" height="27" fill="#14ea14"/>
<rect x="1202" y="735" width="3" height="27" fill="#14ea14"/>
</g>
<polyline points="3.5,729.2 11.5,727.3 19.5,725.4 27.5,723.4 35.5,721.6 43.5,719.6 51.5,717.8 59.5,715.5 67.5,713.2 75.5,712.2 83.5,711.0 91.5,710.2 99.5,709.4 107.5,707.9 115.5,706.4 123.5,705.6 131.5,702.6 139.5,700.3 147.5,698.8 155.5,695.8 163.5,693.5 171.5,691.2 179.5,690.2 187.5,689.4 195.5,689.0 203.5,689.0 211.5,690.0 219.5,690.5 227.5,692.0 235.5,692.8 243.5,693.5 251.5,694.3 259.5,695.5 267.5,697.3 275.5,699.6 283.5,701.4 291.5,704.1 299.5,707.9 307.5,711.3 315.5,714.0 323.5,715.8 331.5,715.8 339.5,715.8 347.5,715.1 355.5,711.7 363.5,708.7 371.5,706.1 379.5,704.1 387.5,702.3 395.5,701.4 403.5,701.1 411.5,701.1 419.5,701.1 427.5,701.1 435.5,701.1 443.5,700.6 451.5,700.0 459.5,699.6 467.5,698.8 475.5,698.8 483.5,698.8 491.5,699.6 499.5,701.9 507.5,704.1 515.5,706.4 523.5,709.4 531.5,712.2 539.5,713.2 547.5,713.2 555.5,713.2 563.5,712.8 571.5,710.2 579.5,706.4 587.5,702.6 595.5,698.8 603.5,695.8 611.5,692.8 619.5,689.7 627.5,686.7 635.5,684.4 643.5,683.3 651.5,682.9 659.5,682.9 667.5,683.2 675.5,683.2 683.5,683.2 691.5,683.2 699.5,684.4 707.5,685.2 715.5,685.9 723.5,688.2 731.5,689.4 739.5,691.5 747.5,693.5 755.5,695.3 763.5,698.1 771.5,700.3 779.5,702.2 787.5,704.6 795.5,706.4 803.5,709.4 811.5,711.0 819.5,713.7 827.5,717.0 835.5,721.6 843.5,723.9 851.5,726.9 859.5,728.4 867.5,729.2 875.5,730.7 883.5,731.4 891.5,733.3 899.5,735.2 907.5,736.7 915.5,740.1 923.5,743.9 931.5,748.1 939.5,751.9 947.5,756.5 955.5,760.3 963.5,763.3 971.5,766.6 979.5,767.1 987.5,768.9 995.5,769.7 1003.5,769.8 1011.5,769.8 1019.5,769.4 1027.5,768.3 1035.5,767.1 1043.5,767.4 1051.5,767.8 1059.5,768.3 1067.5,768.9 1075.5,768.9 1083.5,768.9 1091.5,769.6 1099.5,769.8 1107.5,769.8 1115.5,769.4 1123.5,767.8 1131.5,766.3 1139.5,765.3 1147.5,764.4 1155.5,763.3 1163.5,761.3 1171.5,760.3 1179.5,759.2 1187.5,758.7 1195.5,758.7 1203.5,758.7" fill="none" stroke="#cc0808" stroke-width="2.3" stroke-linejoin="round"/>
<g shape-rendering="crispEdges">
<rect x="2" y="3" width="1514" height="1" fill="#000"/>
<rect x="2" y="3" width="1" height="669" fill="#000"/>
<rect x="2" y="673" width="1" height="109" fill="#000"/>
<rect x="1515" y="3" width="1" height="669" fill="#000"/>
<rect x="1515" y="673" width="1" height="109" fill="#000"/>
<rect x="2" y="671" width="1514" height="1" fill="#000"/>
<rect x="2" y="673" width="1514" height="1" fill="#000"/>
<rect x="2" y="781" width="1514" height="1" fill="#000"/>
<rect x="3" y="672" width="1512" height="1" fill="#fff"/>
<rect x="1516" y="51" width="2" height="1" fill="#000"/>
<rect x="1516" y="116" width="2" height="1" fill="#000"/>
<rect x="1516" y="181" width="2" height="1" fill="#000"/>
<rect x="1516" y="246" width="2" height="1" fill="#000"/>
<rect x="1516" y="311" width="2" height="1" fill="#000"/>
<rect x="1516" y="376" width="2" height="1" fill="#000"/>
<rect x="1516" y="441" width="2" height="1" fill="#000"/>
<rect x="1516" y="506" width="2" height="1" fill="#000"/>
<rect x="1516" y="571" width="2" height="1" fill="#000"/>
<rect x="1516" y="636" width="2" height="1" fill="#000"/>
<rect x="1516" y="735" width="2" height="1" fill="#000"/>
<rect x="1516" y="675" width="1" height="1" fill="#000"/>
<rect x="1516" y="781" width="1" height="1" fill="#000"/>
<rect x="3" y="251" width="1514" height="5" fill="#ff8c0a"/>
<rect x="3" y="423" width="1514" height="5" fill="#0606ee"/>
<rect x="3" y="782" width="1" height="3" fill="#000"/>
<rect x="131" y="782" width="1" height="3" fill="#000"/>
<rect x="259" y="782" width="1" height="3" fill="#000"/>
<rect x="387" y="782" width="1" height="3" fill="#000"/>
<rect x="515" y="782" width="1" height="3" fill="#000"/>
<rect x="643" y="782" width="1" height="3" fill="#000"/>
<rect x="771" y="782" width="1" height="3" fill="#000"/>
<rect x="899" y="782" width="1" height="3" fill="#000"/>
<rect x="1027" y="782" width="1" height="3" fill="#000"/>
<rect x="1155" y="782" width="1" height="3" fill="#000"/>
</g>
<polygon points="6,11 17.5,11 11.75,17.2" fill="#000"/>
<polygon points="1203.5,4 1219.5,4 1211.5,12" fill="#6a6a6a"/>
<line x1="1213.7" y1="438.3" x2="1255.9" y2="514" stroke="#ff0404" stroke-width="5.9" stroke-linecap="round"/>
<polygon points="1271.9,542.1 1244.8,517.3 1265.6,506.2" fill="#ff0404"/>
<line x1="1206.3" y1="421.2" x2="1268.9" y2="321" stroke="#ff0404" stroke-width="5.9" stroke-linecap="round"/>
<polygon points="1284.7,293.3 1257.7,316.8 1277.2,328.6" fill="#ff0404"/>
<ellipse cx="1210.85" cy="423.0" rx="32.0" ry="30.0" fill="none" stroke="#000" stroke-width="5.9"/>
<g font-family="'Liberation Sans', Arial, sans-serif" style="white-space:pre">
<text x="23.7" y="20" font-size="14" fill="#000" stroke="#000" stroke-width="0.15" textLength="88.8" lengthAdjust="spacing">CHINA300-,H1</text>
<text x="120.9" y="20" font-size="14" fill="#000" stroke="#000" stroke-width="0.15" textLength="44.1" lengthAdjust="spacing">4200.2</text>
<text x="168.9" y="20" font-size="14" fill="#000" stroke="#000" stroke-width="0.15" textLength="44.1" lengthAdjust="spacing">4245.0</text>
<text x="216.9" y="20" font-size="14" fill="#000" stroke="#000" stroke-width="0.15" textLength="44.1" lengthAdjust="spacing">4192.4</text>
<text x="264.9" y="20" font-size="14" fill="#000" stroke="#000" stroke-width="0.15" textLength="44.1" lengthAdjust="spacing">4222.9</text>
<text x="1521.9" y="57" font-size="14" fill="#000" stroke="#000" stroke-width="0.15" textLength="44.1" lengthAdjust="spacing">4506.0</text>
<text x="1521.9" y="122" font-size="14" fill="#000" stroke="#000" stroke-width="0.15" textLength="44.1" lengthAdjust="spacing">4452.5</text>
<text x="1521.9" y="187" font-size="14" fill="#000" stroke="#000" stroke-width="0.15" textLength="44.1" lengthAdjust="spacing">4399.5</text>
<text x="1521.9" y="252" font-size="14" fill="#000" stroke="#000" stroke-width="0.15" textLength="44.1" lengthAdjust="spacing">4346.0</text>
<text x="1521.9" y="317" font-size="14" fill="#000" stroke="#000" stroke-width="0.15" textLength="44.1" lengthAdjust="spacing">4293.0</text>
<text x="1521.9" y="382" font-size="14" fill="#000" stroke="#000" stroke-width="0.15" textLength="44.1" lengthAdjust="spacing">4240.0</text>
<text x="1521.9" y="447" font-size="14" fill="#000" stroke="#000" stroke-width="0.15" textLength="44.1" lengthAdjust="spacing">4186.5</text>
<text x="1521.9" y="512" font-size="14" fill="#000" stroke="#000" stroke-width="0.15" textLength="44.1" lengthAdjust="spacing">4133.5</text>
<text x="1521.9" y="577" font-size="14" fill="#000" stroke="#000" stroke-width="0.15" textLength="44.1" lengthAdjust="spacing">4080.5</text>
<text x="1521.9" y="642" font-size="14" fill="#000" stroke="#000" stroke-width="0.15" textLength="44.1" lengthAdjust="spacing">4027.0</text>
<text x="7.2" y="691" font-size="14" fill="#000" stroke="#000" stroke-width="0.15" textLength="183.8" lengthAdjust="spacing">MACD(12,26,9) -22.34 -20.43</text>
<text x="1519.4" y="689" font-size="14" fill="#000" stroke="#000" stroke-width="0.15" textLength="36.1" lengthAdjust="spacing">52.77</text>
<text x="1519.4" y="741" font-size="14" fill="#000" stroke="#000" stroke-width="0.15" textLength="28.1" lengthAdjust="spacing">0.00</text>
<text x="1519.4" y="777" font-size="14" fill="#000" stroke="#000" stroke-width="0.15" textLength="40.8" lengthAdjust="spacing">-39.45</text>
<text x="2.6" y="799" font-size="14" fill="#000" stroke="#000" stroke-width="0.15" textLength="80.1" lengthAdjust="spacing">31 May 2022</text>
<text x="129.7" y="799" font-size="14" fill="#000" stroke="#000" stroke-width="0.15" textLength="75.0" lengthAdjust="spacing">7 Jun 02:30</text>
<text x="258.6" y="799" font-size="14" fill="#000" stroke="#000" stroke-width="0.15" textLength="82.0" lengthAdjust="spacing">13 Jun 02:30</text>
<text x="386.6" y="799" font-size="14" fill="#000" stroke="#000" stroke-width="0.15" textLength="82.0" lengthAdjust="spacing">17 Jun 02:30</text>
<text x="513.8" y="799" font-size="14" fill="#000" stroke="#000" stroke-width="0.15" textLength="82.8" lengthAdjust="spacing">23 Jun 02:30</text>
<text x="642.2" y="799" font-size="14" fill="#000" stroke="#000" stroke-width="0.15" textLength="82.5" lengthAdjust="spacing">29 Jun 02:30</text>
<text x="769.8" y="799" font-size="14" fill="#000" stroke="#000" stroke-width="0.15" textLength="68.8" lengthAdjust="spacing">5 Jul 02:30</text>
<text x="898.1" y="799" font-size="14" fill="#000" stroke="#000" stroke-width="0.15" textLength="76.3" lengthAdjust="spacing">11 Jul 02:30</text>
<text x="1026.3" y="799" font-size="14" fill="#000" stroke="#000" stroke-width="0.15" textLength="76.2" lengthAdjust="spacing">15 Jul 02:30</text>
<text x="1153.9" y="799" font-size="14" fill="#000" stroke="#000" stroke-width="0.15" textLength="76.7" lengthAdjust="spacing">21 Jul 02:30</text>
</g>
<g shape-rendering="crispEdges">
<rect x="1517" y="247" width="54" height="17" fill="#ff8c0a"/>
<rect x="1517" y="389" width="54" height="17" fill="#000"/>
<rect x="1517" y="419" width="54" height="17" fill="#0606ee"/>
</g>
<g font-family="'Liberation Sans', Arial, sans-serif">
<text x="1521.9" y="261" font-size="14" fill="#fff2c8" stroke="#fff2c8" stroke-width="0.15" textLength="44.1" lengthAdjust="spacing">4340.8</text>
<text x="1521.9" y="403" font-size="14" fill="#fff" stroke="#fff" stroke-width="0.15" textLength="44.1" lengthAdjust="spacing">4222.9</text>
<text x="1521.9" y="433" font-size="14" fill="#fff" stroke="#fff" stroke-width="0.15" textLength="44.1" lengthAdjust="spacing">4200.1</text>
</g>
</svg>
</body></html>
